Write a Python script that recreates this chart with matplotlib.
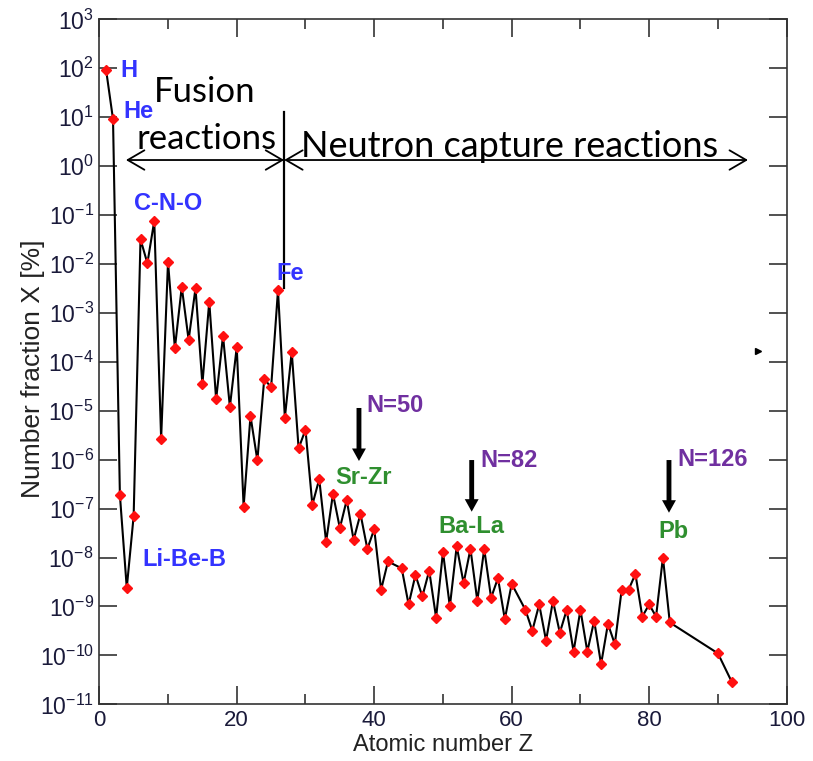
import matplotlib
matplotlib.use("Agg")
import matplotlib.pyplot as plt
from matplotlib import font_manager as fm
import numpy as np

# ---------------- data ----------------
Z = [1, 2, 3, 4, 5, 6, 7, 8, 9, 10,
     11, 12, 13, 14, 15, 16, 17, 18, 19, 20,
     21, 22, 23, 24, 25, 26, 27, 28, 29, 30,
     31, 32, 33, 34, 35, 36, 37, 38, 39, 40,
     41, 42, 44, 45, 46, 47, 48, 49, 50,
     51, 52, 53, 54, 55, 56, 57, 58, 59, 60,
     62, 63, 64, 65, 66, 67, 68, 69, 70,
     71, 72, 73, 74, 75, 76, 77, 78, 79, 80,
     81, 82, 83, 90, 92]
X = [91, 9.1, 1.9e-7, 2.4e-9, 7e-8, 0.032, 0.0103, 0.076, 2.7e-6, 0.011,
     1.9e-4, 3.4e-3, 2.8e-4, 3.2e-3, 3.5e-5, 1.7e-3, 1.7e-5, 3.4e-4, 1.2e-5, 2.0e-4,
     1.1e-7, 7.8e-6, 9.7e-7, 4.5e-5, 3.0e-5, 2.9e-3, 7.2e-6, 1.6e-4, 1.7e-6, 4.1e-6,
     1.2e-7, 4.0e-7, 2.1e-8, 2.0e-7, 4.0e-8, 1.5e-7, 2.3e-8, 7.8e-8, 1.5e-8, 3.8e-8,
     2.2e-9, 8.3e-9, 6.0e-9, 1.1e-9, 4.4e-9, 1.6e-9, 5.4e-9, 5.9e-10, 1.3e-8,
     1.0e-9, 1.7e-8, 3.0e-9, 1.5e-8, 1.3e-9, 1.5e-8, 1.5e-9, 3.8e-9, 5.5e-10, 2.9e-9,
     8.5e-10, 3.2e-10, 1.1e-9, 2.0e-10, 1.3e-9, 2.9e-10, 8.5e-10, 1.2e-10, 8.5e-10,
     1.2e-10, 5.1e-10, 6.6e-11, 4.4e-10, 1.7e-10, 2.2e-9, 2.2e-9, 4.6e-9, 6.2e-10, 1.1e-9,
     6.2e-10, 1.0e-8, 4.7e-10, 1.1e-10, 2.9e-11]

x_ticks = [0, 20, 40, 60, 80, 100]
x_minor = [10, 30, 50, 70, 90]
y_exponents = list(range(-11, 4))

# ---------------- fonts ----------------
avail = {f.name for f in fm.fontManager.ttflist}
narrow = "Liberation Sans Narrow" if "Liberation Sans Narrow" in avail else "Liberation Sans"
plt.rcParams["font.family"] = [narrow, "DejaVu Sans"]
plt.rcParams["mathtext.fontset"] = "custom"
plt.rcParams["mathtext.rm"] = narrow
plt.rcParams["mathtext.it"] = narrow
plt.rcParams["mathtext.bf"] = narrow
calib = "Lato" if "Lato" in avail else "DejaVu Sans"

BLUE = "#3333ff"
PURPLE = "#7030a0"
GREEN = "#2f8f2f"
TICKC = "#1a1a3a"

fig = plt.figure(figsize=(8.13, 7.61), dpi=100)
ax = fig.add_axes([0.1221, 0.0745, 0.8455, 0.9001])

ax.plot(Z, X, color="black", lw=1.5, zorder=2)
ax.plot(Z, X, linestyle="none", marker="D", ms=5.2, mfc="#ff1010", mec="#ff1010", zorder=3)

ax.set_yscale("log")
ax.set_xlim(0, 100)
ax.set_ylim(1e-11, 1e3)
ax.set_yticks([10.0 ** e for e in y_exponents])
ax.set_yticklabels([r"$\mathregular{10^{%d}}$" % e for e in y_exponents])
ax.yaxis.set_minor_locator(matplotlib.ticker.NullLocator())
ax.set_xticks(x_ticks)
ax.set_xticks(x_minor, minor=True)
ax.tick_params(axis="y", which="major", labelsize=16.5)
ax.tick_params(axis="x", which="major", labelsize=16)
ax.tick_params(axis="both", which="major", direction="in", length=13, width=1.1,
               colors="#222222", labelcolor=TICKC, top=True, right=True, pad=4)
ax.tick_params(axis="x", which="minor", direction="in", length=7, width=1.1,
               top=True, colors="#222222")
for s in ax.spines.values():
    s.set_linewidth(1.2)
    s.set_color("#333333")

ax.set_xlabel("Atomic number Z", fontsize=17, color="#222222", labelpad=2)
ax.set_ylabel("Number fraction X [%]", fontsize=19, color="#222222")
ax.yaxis.set_label_coords(-0.079, 0.49)

# ---------------- annotations ----------------
T = ax.transAxes
bold = dict(fontfamily=["Liberation Sans", "DejaVu Sans"], fontweight="bold", fontsize=17)
ax.text(0.030, 0.926, "H", color=BLUE, ha="left", va="center", transform=T, **bold)
ax.text(0.0350, 0.866, "He", color=BLUE, ha="left", va="center", transform=T, **bold)
ax.text(0.1008, 0.731, "C-N-O", color=BLUE, ha="center", va="center", transform=T, **bold)
ax.text(0.2774, 0.629, "Fe", color=BLUE, ha="center", va="center", transform=T, **bold)
ax.text(0.124, 0.2107, "Li-Be-B", color=BLUE, ha="center", va="center", transform=T, **bold)

ax.text(0.388, 0.436, "N=50", color=PURPLE, ha="left", va="center", transform=T, **bold)
ax.text(0.5538, 0.3566, "N=82", color=PURPLE, ha="left", va="center", transform=T, **bold)
ax.text(0.8405, 0.3577, "N=126", color=PURPLE, ha="left", va="center", transform=T, **bold)

ax.text(0.385, 0.3318, "Sr-Zr", color=GREEN, ha="center", va="center", transform=T, **bold)
ax.text(0.5407, 0.2603, "Ba-La", color=GREEN, ha="center", va="center", transform=T, **bold)
ax.text(0.8353, 0.2523, "Pb", color=GREEN, ha="center", va="center", transform=T, **bold)

for fx, y0, y1 in [(0.3778, 0.4326, 0.3552), (0.5418, 0.3566, 0.2812), (0.8288, 0.3566, 0.2797)]:
    ax.annotate("", xy=(fx, y1), xytext=(fx, y0), xycoords=T, textcoords=T,
                arrowprops=dict(arrowstyle="simple,head_length=0.9,head_width=1.0,tail_width=0.35",
                                mutation_scale=10, color="black", shrinkA=0, shrinkB=0, lw=0))

# Fusion / Neutron capture
ax.text(0.1537, 0.8945, "Fusion", fontsize=25, fontfamily=calib, ha="center", va="center", transform=T)
ax.text(0.1560, 0.8260, "reactions", fontsize=25, fontfamily=calib, ha="center", va="center", transform=T)
ax.text(0.5975, 0.815, "Neutron capture reactions", fontsize=26, fontfamily=calib,
        ha="center", va="center", transform=T)
arrow_kw = dict(arrowstyle="<->,head_length=12,head_width=7", lw=1.3, color="black",
                shrinkA=0, shrinkB=0, mutation_scale=1)
ax.annotate("", xy=(0.0388, 0.7946), xytext=(0.269, 0.7946), xycoords=T, textcoords=T,
            arrowprops=arrow_kw)
ax.annotate("", xy=(0.269, 0.7946), xytext=(0.9437, 0.7946), xycoords=T, textcoords=T,
            arrowprops=arrow_kw)
ax.plot([0.269, 0.269], [0.6077, 0.8647], color="black", lw=1.6, transform=T, clip_on=False)

# small stray triangle marker
ax.plot([0.958], [0.5158], marker=">", ms=5, color="black", transform=T, clip_on=False)

fig.savefig("out.png", dpi=100)
